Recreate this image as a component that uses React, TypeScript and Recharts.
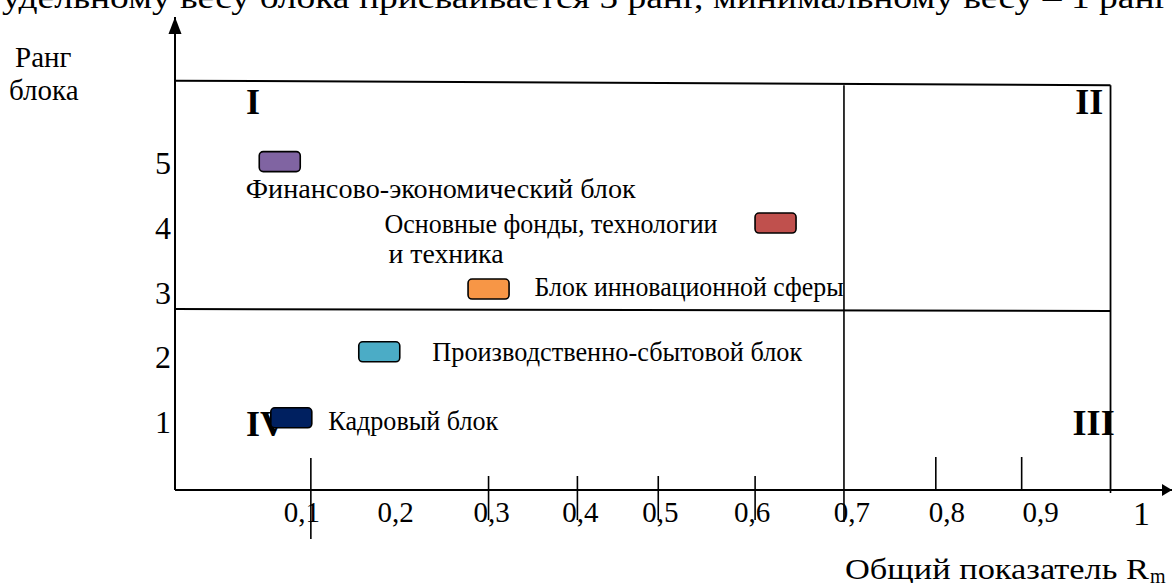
import React from "react";
import {
  ReferenceDot,
  ReferenceLine,
  Scatter,
  ScatterChart,
  XAxis,
  YAxis,
} from "recharts";

// blocks (one marker each)
const blockNames = [
  "Финансово-экономический блок",
  "Основные фонды, технологии\nи техника",
  "Блок инновационной сферы",
  "Производственно-сбытовой блок",
  "Кадровый блок",
];
const rmValues = [0.065, 0.623, 0.3, 0.177, 0.078];
const rankValues = [5.04, 4.09, 3.07, 2.1, 1.08];
const blockColors = ["#8064A2", "#C0504D", "#F79646", "#4BACC6", "#002060"];

// axes
const xTicks = [0.1, 0.2, 0.3, 0.4, 0.5, 0.6, 0.7, 0.8, 0.9, 1];
const xTickLabels = ["0,1", "0,2", "0,3", "0,4", "0,5", "0,6", "0,7", "0,8", "0,9", "1"];
const yTicks = [1, 2, 3, 4, 5];
const yTickLabels = ["1", "2", "3", "4", "5"];

// quadrants
const quadrantNames = ["I", "II", "III", "IV"];
const quadrantX = [0.035, 0.976, 0.981, 0.0495];
const quadrantY = [5.96, 5.96, 1.0, 0.985];
const splitRm = 0.7;
const splitRank = [2.76, 2.73];
const topRank = [6.29, 6.22];

const X_MIN = -0.0529;
const X_MAX = 1.0692;
const Y_MIN = -0.036;
const Y_MAX = 7.275;

const FONT = "Liberation Serif";
const serif = { fontFamily: FONT };

// label layout around each marker: offsets from centre, and text widths
const labelPlacement = [
  { dx: [-34], dy: [36], len: [390] },
  { dx: [-391, -387], dy: [10, 40], len: [333, 115] },
  { dx: [46], dy: [7], len: [309] },
  { dx: [53], dy: [9], len: [370] },
  { dx: [37], dy: [12], len: [170] },
];

// hand-drawn tick marks: extent above/below the axis, shifts
const tickSpan = [[-32, 49], [0, 0], [-14, 30], [-14, 30], [-14, 30], [-14, 30], [0, 32], [-33, 0], [-33, 0], [0, 3]];
const tickLineDx = [0, 0, 0, 0, -8, 0, 0, 3, 0, 0];
const tickLabelDx = [-9, -4, 3, 3, -6, -3, 8, 14, 19, 31];

const data = rmValues.map((x, i) => ({
  x,
  y: rankValues[i],
  name: blockNames[i],
  color: blockColors[i],
  i,
}));

const XTick = (props: any) => {
  const { x, y, payload } = props;
  const i = xTicks.indexOf(payload.value);
  const [a, b] = tickSpan[i];
  const lx = x + tickLineDx[i];
  const last = i === xTicks.length - 1;
  return (
    <g>
      {a !== b && <line x1={lx} x2={lx} y1={y + a} y2={y + b} stroke="#000" strokeWidth={1.6} />}
      <text
        x={x + tickLabelDx[i]}
        y={y + (last ? 35 : 32)}
        textAnchor="middle"
        style={serif}
        fontSize={last ? 34 : 29}
        fill="#000"
      >
        {xTickLabels[i]}
      </text>
    </g>
  );
};

const YTick = (props: any) => {
  const { x, y, payload } = props;
  const i = yTicks.indexOf(payload.value);
  return (
    <text x={x - 4} y={y + 10} textAnchor="end" style={serif} fontSize={32} fill="#000">
      {yTickLabels[i]}
    </text>
  );
};

const BlockMarker = (props: any) => {
  const { cx, cy, payload } = props;
  const lines: string[] = payload.name.split("\n");
  const pl = labelPlacement[payload.i];
  return (
    <g>
      <rect
        x={cx - 20.5}
        y={cy - 10}
        width={41}
        height={20}
        rx={4}
        fill={payload.color}
        stroke="#000"
        strokeWidth={1.6}
      />
      {lines.map((ln, k) => (
        <text
          key={k}
          x={cx + pl.dx[k]}
          y={cy + pl.dy[k]}
          style={serif}
          fontSize={27}
          textLength={pl.len[k]}
          lengthAdjust="spacingAndGlyphs"
          fill="#000"
        >
          {ln}
        </text>
      ))}
    </g>
  );
};

const UpArrow = (p: any) => (
  <polygon points={`${p.cx},${p.cy} ${p.cx - 6.5},${p.cy + 17} ${p.cx + 6.5},${p.cy + 17}`} fill="#000" />
);
const RightArrow = (p: any) => (
  <polygon points={`${p.cx},${p.cy} ${p.cx - 10},${p.cy - 6} ${p.cx - 10},${p.cy + 6}`} fill="#000" />
);

const QuadrantLabel = (text: string) => (p: any) => (
  <text x={p.cx} y={p.cy + 12} textAnchor="middle" style={serif} fontWeight="bold" fontSize={36} fill="#000">
    {text}
  </text>
);

export default function App() {
  return (
    <div style={{ position: "absolute", left: 0, top: 0, width: 1172, height: 583, background: "#fff" }}>
      <ScatterChart width={1172} height={583} margin={{ top: 17, right: 0, bottom: 0, left: 0 }}>
        <XAxis
          type="number"
          dataKey="x"
          domain={[X_MIN, X_MAX]}
          ticks={xTicks}
          interval={0}
          allowDataOverflow
          height={93}
          tickSize={0}
          tickMargin={0}
          tickLine={false}
          axisLine={{ stroke: "#000", strokeWidth: 2.2 }}
          tick={<XTick />}
        />
        <YAxis
          type="number"
          dataKey="y"
          domain={[Y_MIN, Y_MAX]}
          ticks={yTicks}
          interval={0}
          allowDataOverflow
          width={175}
          tickSize={0}
          tickMargin={0}
          tickLine={false}
          axisLine={{ stroke: "#000", strokeWidth: 2 }}
          tick={<YTick />}
        />
        <ReferenceLine
          segment={[{ x: X_MIN, y: topRank[0] }, { x: 1, y: topRank[1] }]}
          stroke="#000"
          strokeWidth={2}
          ifOverflow="visible"
        />
        <ReferenceLine
          segment={[{ x: X_MIN, y: splitRank[0] }, { x: 1, y: splitRank[1] }]}
          stroke="#000"
          strokeWidth={2}
          ifOverflow="visible"
        />
        <ReferenceLine
          segment={[{ x: splitRm, y: topRank[1] }, { x: splitRm, y: Y_MIN }]}
          stroke="#000"
          strokeWidth={1.6}
          ifOverflow="visible"
        />
        <ReferenceLine
          segment={[{ x: 1, y: topRank[1] }, { x: 1, y: Y_MIN }]}
          stroke="#000"
          strokeWidth={1.8}
          ifOverflow="visible"
        />
        {quadrantNames.map((q, i) => (
          <ReferenceDot
            key={q}
            x={quadrantX[i]}
            y={quadrantY[i]}
            ifOverflow="visible"
            shape={QuadrantLabel(q)}
          />
        ))}
        <ReferenceDot x={X_MIN} y={Y_MAX} ifOverflow="visible" shape={UpArrow} />
        <ReferenceDot x={X_MAX} y={Y_MIN} ifOverflow="visible" shape={RightArrow} />
        <Scatter data={data} shape={BlockMarker} isAnimationActive={false} />
      </ScatterChart>
      <svg
        width={1172}
        height={583}
        style={{ position: "absolute", left: 0, top: 0, pointerEvents: "none" }}
      >
        <text x={2} y={8} style={serif} fontSize={31} textLength={1168} lengthAdjust="spacingAndGlyphs">
          удельному весу блока присваивается 5 ранг, минимальному весу – 1 ранг
        </text>
        <text x={15} y={67} style={serif} fontSize={29}>Ранг</text>
        <text x={9} y={100} style={serif} fontSize={29}>блока</text>
        <text x={845} y={579} style={serif} fontSize={30} textLength={304} lengthAdjust="spacingAndGlyphs">
          Общий показатель R
        </text>
        <text x={1150} y={583} style={serif} fontSize={20}>m</text>
      </svg>
    </div>
  );
}
